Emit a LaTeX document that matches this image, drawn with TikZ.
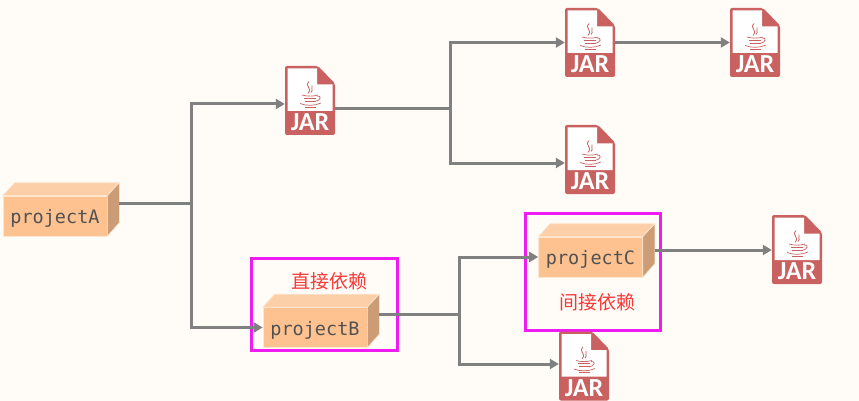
\documentclass[tikz,border=0pt]{standalone}
\usepackage{fontspec}
\setmonofont{DejaVu Sans Mono}
\newfontfamily\jarfont{Carlito}
\newfontfamily\cjkfont{Noto Sans CJK SC}
\usetikzlibrary{positioning, arrows.meta}
\definecolor{pagebg}{HTML}{FFFBF6}
\definecolor{boxfront}{HTML}{FDC290}
\definecolor{boxtop}{HTML}{FDCFA8}
\definecolor{boxside}{HTML}{CB9C76}
\definecolor{boxedge}{HTML}{FFE6D0}
\definecolor{jarred}{HTML}{C8615F}
\definecolor{linkgray}{HTML}{808080}
\definecolor{framepink}{HTML}{F01BF0}
\definecolor{notered}{HTML}{F53A3A}
\newcommand{\jarshape}{
  \fill[jarred, rounded corners=2pt] (-25,-34.5) -- (8,-34.5) -- (25,-17) -- (25,34.5) -- (-25,34.5) -- cycle;
  \fill[white] (-22.5,-32) -- (7,-32) -- (7,-16) -- (22.5,-16) -- (22.5,10.5) -- (-22.5,10.5) -- cycle;
  \draw[jarred, line width=.8pt] (-1,-19) .. controls (-6,-14) and (3,-13) .. (-2,-7);
  \draw[jarred, line width=.8pt] (2,-15) .. controls (0,-12) and (4,-11) .. (1,-8);
  \draw[jarred, line width=.7pt] (-8,-5.5) .. controls (-3,-4) and (3,-4) .. (8,-5.5);
  \draw[jarred, line width=.7pt] (-6,-2.5) -- (6,-2.5);
  \draw[jarred, line width=.7pt] (-5.5,.5) -- (5.5,.5);
  \draw[jarred, line width=.7pt] (7,-4.5) .. controls (12,-5) and (11,0) .. (5,1);
  \draw[jarred, line width=.7pt] (-10,3) .. controls (-4,5.5) and (5,5.5) .. (11,2.5);
  \draw[jarred, line width=.5pt] (-5,6.5) -- (6,6.5);
}
\tikzset{
  x=1pt, y=-1pt,
  boxnode/.style={fill=boxfront, draw=boxedge, line width=.6pt, inner sep=0pt,
    minimum width=104pt, minimum height=40pt, text height=15.5pt, text depth=0pt,
    font=\ttfamily\fontsize{18.5}{20}\selectfont, text=black!68},
  boxtopface/.style={fill=boxtop, draw=boxedge, line width=.6pt},
  boxsideface/.style={fill=boxside, draw=boxedge, line width=.6pt},
  jarfile/.style={inner sep=0pt, minimum width=50pt, minimum height=69pt,
    path picture={\begin{scope}[shift={(path picture bounding box.center)}]\jarshape\end{scope}},
    label={[anchor=south, inner sep=0pt, yshift=4pt, text=white, font=\jarfont\bfseries\fontsize{26}{26}\selectfont]south:JAR}},
  framebox/.style={draw=framepink, line width=3pt, inner sep=0pt},
  note/.style={text=notered, font=\cjkfont\fontsize{19}{21}\selectfont, inner sep=0pt},
  link/.style={draw=linkgray, line width=3pt},
  linkarrow/.style={link, -{Triangle[length=9pt, width=10pt]}}
}
\begin{document}
\begin{tikzpicture}
  \useasboundingbox[fill=pagebg] (0,0) rectangle (859,401);
  % frames
  \node[framebox, minimum width=146pt, minimum height=92pt] (frameB) at (324.5,304.5) {};
  \node[framebox, minimum width=135pt, minimum height=117pt] (frameC) at (593,272) {};
  % projects
  \node[boxnode] (projectA) at (55,216) {projectA};
  \node[boxnode] (projectB) at (315,327.5) {projectB};
  \node[boxnode] (projectC) at (590.5,257) {projectC};
  \foreach \name in {projectA, projectB, projectC} {
    \draw[boxtopface] (\name.north west) -- ++(12,-13) -- ++(104,0) -- (\name.north east) -- cycle;
    \draw[boxsideface] (\name.north east) -- ++(12,-13) -- ++(0,40) -- (\name.south east) -- cycle;
  }
  % jars
  \node[jarfile] (jarA) at (310,100.5) {};
  \node[jarfile] (jarB) at (590,42.5) {};
  \node[jarfile] (jarC) at (755,42.5) {};
  \node[jarfile] (jarD) at (590,159.5) {};
  \node[jarfile] (jarE) at (797,249.5) {};
  \node[jarfile] (jarF) at (584,366) {};
  % notes
  \node[note] (noteB) at (329,281) {直接依赖};
  \node[note] (noteC) at (597,302) {间接依赖};
  % links
  \coordinate (splitA) at (191,203);
  \coordinate (splitB) at (450,109);
  \coordinate (splitC) at (459,314);
  \draw[link] ([xshift=12pt,yshift=13pt]projectA.east) -- (splitA);
  \draw[linkarrow] (splitA) |- ([yshift=-3.5pt]jarA.west);
  \draw[linkarrow] (splitA) |- (projectB.west);
  \draw[link] ([yshift=-8.5pt]jarA.east) -- (splitB);
  \draw[linkarrow] (splitB) |- (jarB.west);
  \draw[linkarrow] (splitB) |- ([yshift=-3.5pt]jarD.west);
  \draw[linkarrow] (jarB) -- (jarC);
  \draw[link] ([xshift=12pt,yshift=13.5pt]projectB.east) -- (splitC);
  \draw[linkarrow] (splitC) |- (projectC.west);
  \draw[linkarrow] (splitC) |- ([yshift=2pt]jarF.west);
  \draw[linkarrow] ([xshift=12pt,yshift=7pt]projectC.east) -- (jarE.west |- 0,250);
\end{tikzpicture}
\end{document}
